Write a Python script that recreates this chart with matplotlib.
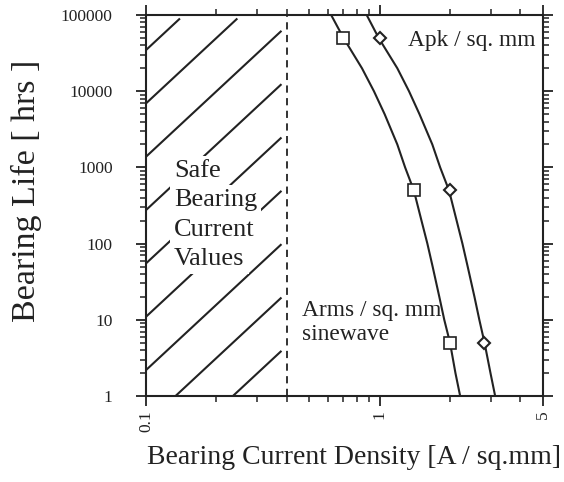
import numpy as np
import matplotlib.pyplot as plt
from matplotlib.ticker import FixedLocator, FixedFormatter, NullFormatter, LogLocator

plt.rcParams['font.family'] = ['Liberation Serif', 'DejaVu Serif']

# bearing life curves, current density read at fixed life values
life_hrs = [100000, 50000, 20000, 10000, 5000, 2000, 1000, 500, 200, 100, 50, 20, 10, 5, 2, 1]
density_rms = [0.62, 0.70, 0.84, 0.945, 1.05, 1.19, 1.285, 1.40, 1.51, 1.60, 1.685, 1.80,
               1.89, 2.00, 2.11, 2.21]
density_pk = [0.88, 0.99, 1.19, 1.335, 1.48, 1.68, 1.815, 1.98, 2.135, 2.26, 2.38, 2.545,
              2.67, 2.81, 2.98, 3.12]

# measured points
pts_hrs = [50000, 500, 5]
pts_rms = [0.7, 1.4, 2.0]
pts_pk = [1.0, 2.0, 2.8]

safe_limit = 0.4
safe_words = ['Safe', 'Bearing', 'Current', 'Values']

x_ticks = [0.1, 1, 5]
x_ticklabels = ['0.1', '1', '5']
y_ticks = [1, 10, 100, 1000, 10000, 100000]
y_ticklabels = ['1', '10', '100', '1000', '10000', '100000']

ink = '#222222'

fig = plt.figure(figsize=(5.64, 4.82), dpi=100)
ax = fig.add_axes([146 / 564, 86 / 482, 397 / 564, 381 / 482])
ax.set_xscale('log')
ax.set_yscale('log')
ax.set_xlim(0.1, 5)
ax.set_ylim(1, 100000)

# diagonal hatching over the safe region, done by hand for the wide spacing
slope = 2.85
u_lo, u_hi = -1.0, np.log10(0.38)
v_lo, v_hi = 0.0, np.log10(9e4)
for c in np.arange(4.54, -2.5, -0.70):
    a = max(u_lo, u_lo + (v_lo - c) / slope)
    b = min(u_hi, u_lo + (v_hi - c) / slope)
    if b <= a:
        continue
    uu = np.array([a, b])
    vv = c + slope * (uu - u_lo)
    ax.plot(10 ** uu, 10 ** vv, color=ink, lw=1.5, solid_capstyle='butt', zorder=1)

ax.axvline(safe_limit, color=ink, lw=1.3, ls=(0, (4, 3)), zorder=2)

for i, word in enumerate(safe_words):
    ax.text(0.0705, 0.575 - i * 0.077, word, transform=ax.transAxes, fontsize=19,
            color=ink, va='baseline', ha='left', zorder=3,
            bbox=dict(facecolor='white', edgecolor='none', pad=3))

# life curves and markers
ax.plot(density_rms, life_hrs, color=ink, lw=1.5, zorder=4)
ax.plot(density_pk, life_hrs, color=ink, lw=1.5, zorder=4)
ax.plot(pts_rms, pts_hrs, ls='none', marker='s', ms=8.4, mfc='white', mec=ink, mew=1.2, zorder=5)
ax.plot(pts_pk, pts_hrs, ls='none', marker='D', ms=6.0, mfc='white', mec=ink, mew=1.5, zorder=5)

ax.text(0.66, 0.934, 'Apk / sq. mm', transform=ax.transAxes, fontsize=16.8, color=ink,
        va='center', ha='left')
ax.text(0.393, 0.21, 'Arms / sq. mm', transform=ax.transAxes, fontsize=16.8, color=ink,
        va='baseline', ha='left')
ax.text(0.393, 0.147, 'sinewave', transform=ax.transAxes, fontsize=16.8, color=ink,
        va='baseline', ha='left')

# ticks
ax.xaxis.set_major_locator(FixedLocator(x_ticks))
ax.xaxis.set_major_formatter(FixedFormatter(x_ticklabels))
ax.xaxis.set_minor_locator(LogLocator(base=10, subs=np.arange(2, 10)))
ax.xaxis.set_minor_formatter(NullFormatter())
ax.yaxis.set_major_locator(FixedLocator(y_ticks))
ax.yaxis.set_major_formatter(FixedFormatter(y_ticklabels))
ax.yaxis.set_minor_locator(LogLocator(base=10, subs=np.arange(2, 10)))
ax.yaxis.set_minor_formatter(NullFormatter())

ax.tick_params(which='both', direction='out', top=True, right=True, color=ink,
               labelcolor=ink, labelsize=12.5)
ax.tick_params(which='major', length=7, width=1.3)
ax.tick_params(which='minor', length=4.5, width=1.1)
ax.tick_params(axis='y', pad=17)
ax.tick_params(axis='x', pad=3, labelrotation=90)

for s in ax.spines.values():
    s.set_linewidth(1.5)
    s.set_color(ink)

ax.set_xlabel('Bearing Current Density [A / sq.mm]', fontsize=20, color=ink)
ax.xaxis.set_label_coords(0.523, -0.128)
ax.set_ylabel('Bearing Life [ hrs ]', fontsize=24.5, color=ink)
ax.yaxis.set_label_coords(-0.262, 0.538)

fig.savefig('out.png', dpi=100, facecolor='white')
